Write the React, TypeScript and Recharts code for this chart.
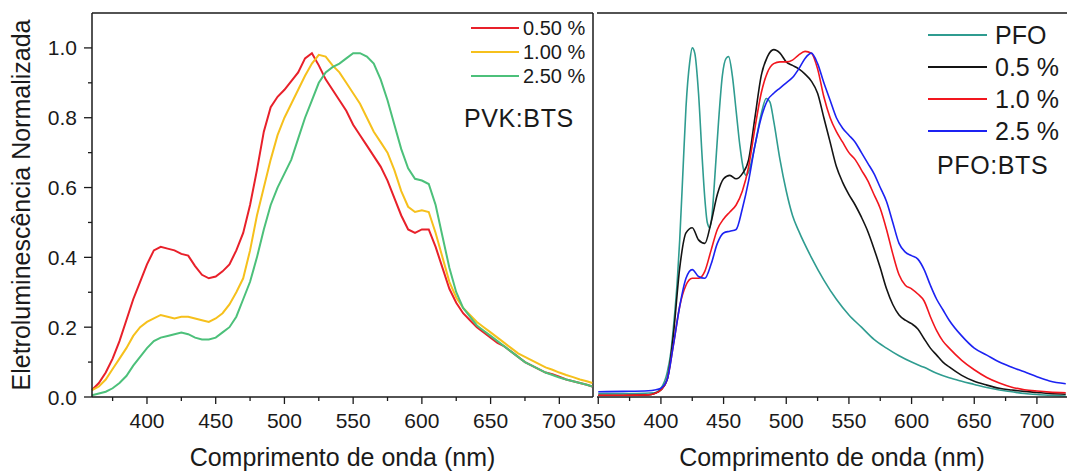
import { LineChart, Line, XAxis, YAxis, ReferenceLine, Legend } from 'recharts';

const FONT = '"Liberation Sans", Arial, Helvetica, sans-serif';
const INK = '#1a1a1a';

// painel esquerdo: PVK:BTS (espectros ruidosos)
const pvkNm = [
  360, 365, 370, 375, 380, 385, 390, 395, 400, 405, 410, 415, 420, 425, 430, 435, 440, 445, 450, 455,
  460, 465, 470, 475, 480, 485, 490, 495, 500, 505, 510, 515, 520, 525, 530, 535, 540, 545, 550, 555,
  560, 565, 570, 575, 580, 585, 590, 595, 600, 605, 610, 615, 620, 625, 630, 635, 640, 645, 650, 655,
  660, 665, 670, 675, 680, 685, 690, 695, 700, 705, 710, 715, 720, 724,
];
const pvk050 = [
  0.02, 0.04, 0.07, 0.11, 0.16, 0.22, 0.28, 0.33, 0.38, 0.42, 0.43, 0.425, 0.42, 0.41, 0.405, 0.375, 0.35, 0.34, 0.345, 0.36,
  0.38, 0.42, 0.47, 0.55, 0.65, 0.76, 0.83, 0.86, 0.88, 0.905, 0.93, 0.97, 0.985, 0.95, 0.91, 0.88, 0.85, 0.82, 0.78, 0.75,
  0.72, 0.69, 0.66, 0.62, 0.57, 0.52, 0.48, 0.47, 0.48, 0.48, 0.43, 0.37, 0.31, 0.27, 0.24, 0.22, 0.2, 0.185, 0.17, 0.155,
  0.145, 0.13, 0.115, 0.1, 0.09, 0.08, 0.07, 0.065, 0.058, 0.05, 0.045, 0.04, 0.035, 0.03,
];
const pvk100 = [
  0.02, 0.03, 0.05, 0.08, 0.11, 0.14, 0.175, 0.2, 0.215, 0.225, 0.235, 0.23, 0.225, 0.23, 0.23, 0.225, 0.22, 0.215, 0.225, 0.24,
  0.265, 0.3, 0.34, 0.42, 0.52, 0.6, 0.68, 0.75, 0.8, 0.84, 0.88, 0.92, 0.955, 0.98, 0.975, 0.95, 0.93, 0.9, 0.87, 0.84,
  0.8, 0.76, 0.73, 0.7, 0.65, 0.59, 0.545, 0.53, 0.535, 0.53, 0.47, 0.4, 0.33, 0.285, 0.255, 0.235, 0.215, 0.2, 0.185, 0.17,
  0.155, 0.14, 0.125, 0.115, 0.105, 0.095, 0.085, 0.078, 0.07, 0.063, 0.057, 0.05, 0.045, 0.04,
];
const pvk250 = [
  0.005, 0.01, 0.015, 0.025, 0.04, 0.06, 0.09, 0.115, 0.14, 0.16, 0.17, 0.175, 0.18, 0.185, 0.18, 0.17, 0.165, 0.165, 0.17, 0.185,
  0.2, 0.23, 0.28, 0.33, 0.4, 0.48, 0.55, 0.6, 0.64, 0.68, 0.74, 0.8, 0.85, 0.9, 0.93, 0.945, 0.955, 0.97, 0.985, 0.985,
  0.975, 0.955, 0.91, 0.85, 0.78, 0.71, 0.655, 0.625, 0.62, 0.61, 0.55, 0.46, 0.37, 0.3, 0.255, 0.23, 0.205, 0.19, 0.175, 0.16,
  0.145, 0.13, 0.115, 0.1, 0.09, 0.08, 0.07, 0.063, 0.056, 0.05, 0.045, 0.04, 0.035, 0.03,
];

// painel direito: PFO puro e blendas PFO:BTS
const pfoNm = [
  350, 380, 395, 400, 405, 408, 410, 413, 415, 418, 420, 423, 425, 427, 430, 433, 435, 437, 439, 441,
  443, 446, 449, 452, 454, 457, 460, 463, 466, 468, 470, 475, 480, 484, 487, 490, 495, 500, 505, 510,
  520, 530, 540, 550, 560, 570, 580, 590, 600, 610, 620, 630, 640, 650, 660, 670, 680, 690, 700, 710, 723,
];
const pfoPure = [
  0.01, 0.01, 0.012, 0.025, 0.07, 0.13, 0.2, 0.33, 0.45, 0.68, 0.83, 0.96, 1.0, 0.985, 0.87, 0.68, 0.57, 0.5, 0.485, 0.53,
  0.63, 0.79, 0.92, 0.97, 0.975, 0.92, 0.82, 0.72, 0.65, 0.635, 0.645, 0.72, 0.81, 0.855, 0.845, 0.79, 0.68, 0.59, 0.52, 0.475,
  0.4, 0.335, 0.28, 0.235, 0.2, 0.165, 0.14, 0.118, 0.1, 0.085, 0.068, 0.055, 0.045, 0.036, 0.027, 0.02, 0.015, 0.01, 0.007, 0.005, 0.003,
];
const blendNm = [
  350, 370, 390, 395, 400, 405, 410, 415, 420, 425, 430, 435, 440, 445, 450, 455, 460, 465, 470, 475,
  480, 485, 490, 495, 500, 505, 510, 515, 520, 525, 530, 535, 540, 545, 550, 555, 560, 565, 570, 575,
  580, 585, 590, 595, 600, 605, 610, 615, 620, 625, 630, 640, 650, 660, 670, 680, 690, 700, 710, 723,
];
const pfo05 = [
  0.005, 0.005, 0.006, 0.01, 0.02, 0.05, 0.18, 0.37, 0.47, 0.485, 0.45, 0.44, 0.5, 0.58, 0.625, 0.635, 0.625, 0.64, 0.68, 0.8,
  0.92, 0.975, 0.995, 0.985, 0.96, 0.95, 0.94, 0.925, 0.905, 0.87, 0.8, 0.73, 0.66, 0.615, 0.58, 0.55, 0.515, 0.475, 0.425, 0.37,
  0.31, 0.265, 0.235, 0.22, 0.21, 0.195, 0.167, 0.14, 0.12, 0.1, 0.086, 0.062, 0.045, 0.034, 0.025, 0.02, 0.016, 0.013, 0.01, 0.008,
];
const pfo10 = [
  0.005, 0.005, 0.006, 0.01, 0.02, 0.05, 0.15, 0.26, 0.32, 0.34, 0.34, 0.36, 0.42, 0.48, 0.51, 0.53, 0.55, 0.59, 0.66, 0.77,
  0.87, 0.93, 0.955, 0.96, 0.96, 0.965, 0.98, 0.99, 0.985, 0.94, 0.86, 0.8, 0.76, 0.73, 0.7, 0.68, 0.65, 0.62, 0.58, 0.54,
  0.48, 0.41, 0.35, 0.32, 0.31, 0.295, 0.275, 0.23, 0.19, 0.16, 0.14, 0.105, 0.078, 0.056, 0.04, 0.028, 0.021, 0.017, 0.014, 0.012,
];
const pfo25 = [
  0.015, 0.016, 0.018, 0.02, 0.025, 0.05, 0.15, 0.26, 0.34, 0.365, 0.345, 0.34, 0.38, 0.44, 0.47, 0.475, 0.48, 0.54, 0.62, 0.72,
  0.8, 0.85, 0.87, 0.885, 0.9, 0.915, 0.94, 0.97, 0.985, 0.955, 0.9, 0.85, 0.8, 0.77, 0.75, 0.73, 0.7, 0.67, 0.64, 0.6,
  0.56, 0.5, 0.44, 0.415, 0.405, 0.395, 0.365, 0.32, 0.28, 0.25, 0.22, 0.175, 0.14, 0.12, 0.1, 0.085, 0.072, 0.058, 0.046, 0.038,
];

const pvkTicks = [375, 400, 425, 450, 475, 500, 525, 550, 575, 600, 625, 650, 675, 700];
const pfoTicks = [350, 375, 400, 425, 450, 475, 500, 525, 550, 575, 600, 625, 650, 675, 700];
const yTicks = [0, 0.1, 0.2, 0.3, 0.4, 0.5, 0.6, 0.7, 0.8, 0.9, 1.0];

const pvkRows = pvkNm.map((nm, i) => ({ nm, a: pvk050[i], b: pvk100[i], c: pvk250[i] }));
const pfoRows = pfoNm.map((nm, i) => ({ nm, p0: pfoPure[i] }));
const blendRows = blendNm.map((nm, i) => ({ nm, p1: pfo05[i], p2: pfo10[i], p3: pfo25[i] }));

function NmTick({ x, y, payload }: any) {
  const major = payload.value % 50 === 0;
  return (
    <g>
      <line x1={x} y1={y} x2={x} y2={y + (major ? 7 : 4)} stroke={INK} strokeWidth={1.3} />
      {major && (
        <text x={x} y={y + 31} textAnchor="middle" fontSize={21} fontFamily={FONT} fill={INK}>
          {payload.value}
        </text>
      )}
    </g>
  );
}

function ValTick({ x, y, payload }: any) {
  const major = Math.round(payload.value * 10) % 2 === 0;
  return (
    <g>
      <line x1={x} y1={y} x2={x - (major ? 8 : 4)} y2={y} stroke={INK} strokeWidth={1.3} />
      {major && (
        <text x={x - 15} y={y + 7.5} textAnchor="end" fontSize={21} fontFamily={FONT} fill={INK}>
          {payload.value.toFixed(1)}
        </text>
      )}
    </g>
  );
}

function SeriesKey({ payload, lineW, rowH, fontSize, gap, title, titleTop, titleLeft }: any) {
  return (
    <div style={{ fontFamily: FONT, color: INK }}>
      {(payload || []).map((p: any) => (
        <div key={p.value} style={{ display: 'flex', alignItems: 'center', height: rowH }}>
          <span style={{ display: 'inline-block', width: lineW, borderTop: `2px solid ${p.color}` }} />
          <span style={{ marginLeft: gap, fontSize, lineHeight: 1, whiteSpace: 'nowrap' }}>{p.value}</span>
        </div>
      ))}
      <div
        style={{
          marginTop: titleTop,
          marginLeft: titleLeft,
          fontSize: 25,
          lineHeight: '28px',
          letterSpacing: 0.6,
          whiteSpace: 'nowrap',
        }}
      >
        {title}
      </div>
    </div>
  );
}

const axisLine = { stroke: INK, strokeWidth: 1.5 };
const titleStyle = { fontSize: 25, fontFamily: FONT, fill: INK };

export default function App() {
  return (
    <div style={{ position: 'absolute', left: 0, top: 0, width: 1067, height: 472, background: '#fff' }}>
      <div style={{ position: 'absolute', left: 0, top: 0 }}>
        <LineChart width={595} height={472} data={pvkRows} margin={{ top: 13, right: 2, bottom: 0, left: 0 }}>
          <XAxis
            dataKey="nm"
            type="number"
            domain={[360, 724.5]}
            ticks={pvkTicks}
            interval={0}
            tick={<NmTick />}
            tickLine={false}
            tickSize={0}
            tickMargin={0}
            height={75}
            axisLine={axisLine}
            label={{ value: 'Comprimento de onda (nm)', position: 'insideBottom', offset: 6, style: titleStyle }}
          />
          <YAxis
            type="number"
            domain={[0, 1.1]}
            ticks={yTicks}
            interval={0}
            tick={<ValTick />}
            tickLine={false}
            tickSize={0}
            tickMargin={0}
            width={92}
            axisLine={axisLine}
            label={{
              value: 'Eletroluminescência Normalizada',
              angle: -90,
              position: 'insideLeft',
              offset: 21,
              style: { ...titleStyle, textAnchor: 'middle' },
            }}
          />
          <ReferenceLine y={1.1} stroke={INK} strokeWidth={1.5} />
          <ReferenceLine x={724.5} stroke={INK} strokeWidth={1.5} />
          <Line dataKey="a" name="0.50 %" stroke="#e8202a" strokeWidth={2} dot={false} type="linear" isAnimationActive={false} />
          <Line dataKey="b" name="1.00 %" stroke="#f6c01c" strokeWidth={2} dot={false} type="linear" isAnimationActive={false} />
          <Line dataKey="c" name="2.50 %" stroke="#4cc07a" strokeWidth={2} dot={false} type="linear" isAnimationActive={false} />
          <Legend
            layout="horizontal"
            verticalAlign="middle"
            align="center"
            itemSorter="dataKey"
            wrapperStyle={{ left: 471, top: 16, width: 124 }}
            content={(props: any) => (
              <SeriesKey
                payload={props.payload}
                lineW={48}
                rowH={24}
                gap={4}
                fontSize={20}
                title="PVK:BTS"
                titleTop={16}
                titleLeft={-7}
              />
            )}
          />
        </LineChart>
      </div>

      <div style={{ position: 'absolute', left: 575, top: 0 }}>
        <LineChart width={492} height={472} margin={{ top: 13, right: 0, bottom: 0, left: 22 }}>
          <XAxis
            dataKey="nm"
            type="number"
            domain={[349, 724]}
            ticks={pfoTicks}
            interval={0}
            tick={<NmTick />}
            tickLine={false}
            tickSize={0}
            tickMargin={0}
            height={75}
            axisLine={axisLine}
            allowDuplicatedCategory={false}
            label={{ value: 'Comprimento de onda (nm)', position: 'insideBottom', offset: 6, style: titleStyle }}
          />
          <YAxis type="number" domain={[0, 1.1]} width={0} tick={false} tickLine={false} axisLine={axisLine} />
          <ReferenceLine y={1.1} stroke={INK} strokeWidth={1.5} />
          <Line data={pfoRows} dataKey="p0" name="PFO" stroke="#2f9c90" strokeWidth={1.6} dot={false} type="monotone" isAnimationActive={false} />
          <Line data={blendRows} dataKey="p1" name="0.5 %" stroke="#141414" strokeWidth={1.6} dot={false} type="monotone" isAnimationActive={false} />
          <Line data={blendRows} dataKey="p2" name="1.0 %" stroke="#f2161e" strokeWidth={1.6} dot={false} type="monotone" isAnimationActive={false} />
          <Line data={blendRows} dataKey="p3" name="2.5 %" stroke="#1c22f2" strokeWidth={1.6} dot={false} type="monotone" isAnimationActive={false} />
          <Legend
            layout="horizontal"
            verticalAlign="middle"
            align="center"
            itemSorter="dataKey"
            wrapperStyle={{ left: 353, top: 19, width: 139 }}
            content={(props: any) => (
              <SeriesKey
                payload={props.payload}
                lineW={59}
                rowH={32}
                gap={8}
                fontSize={25}
                title="PFO:BTS"
                titleTop={4}
                titleLeft={9}
              />
            )}
          />
        </LineChart>
      </div>
    </div>
  );
}
